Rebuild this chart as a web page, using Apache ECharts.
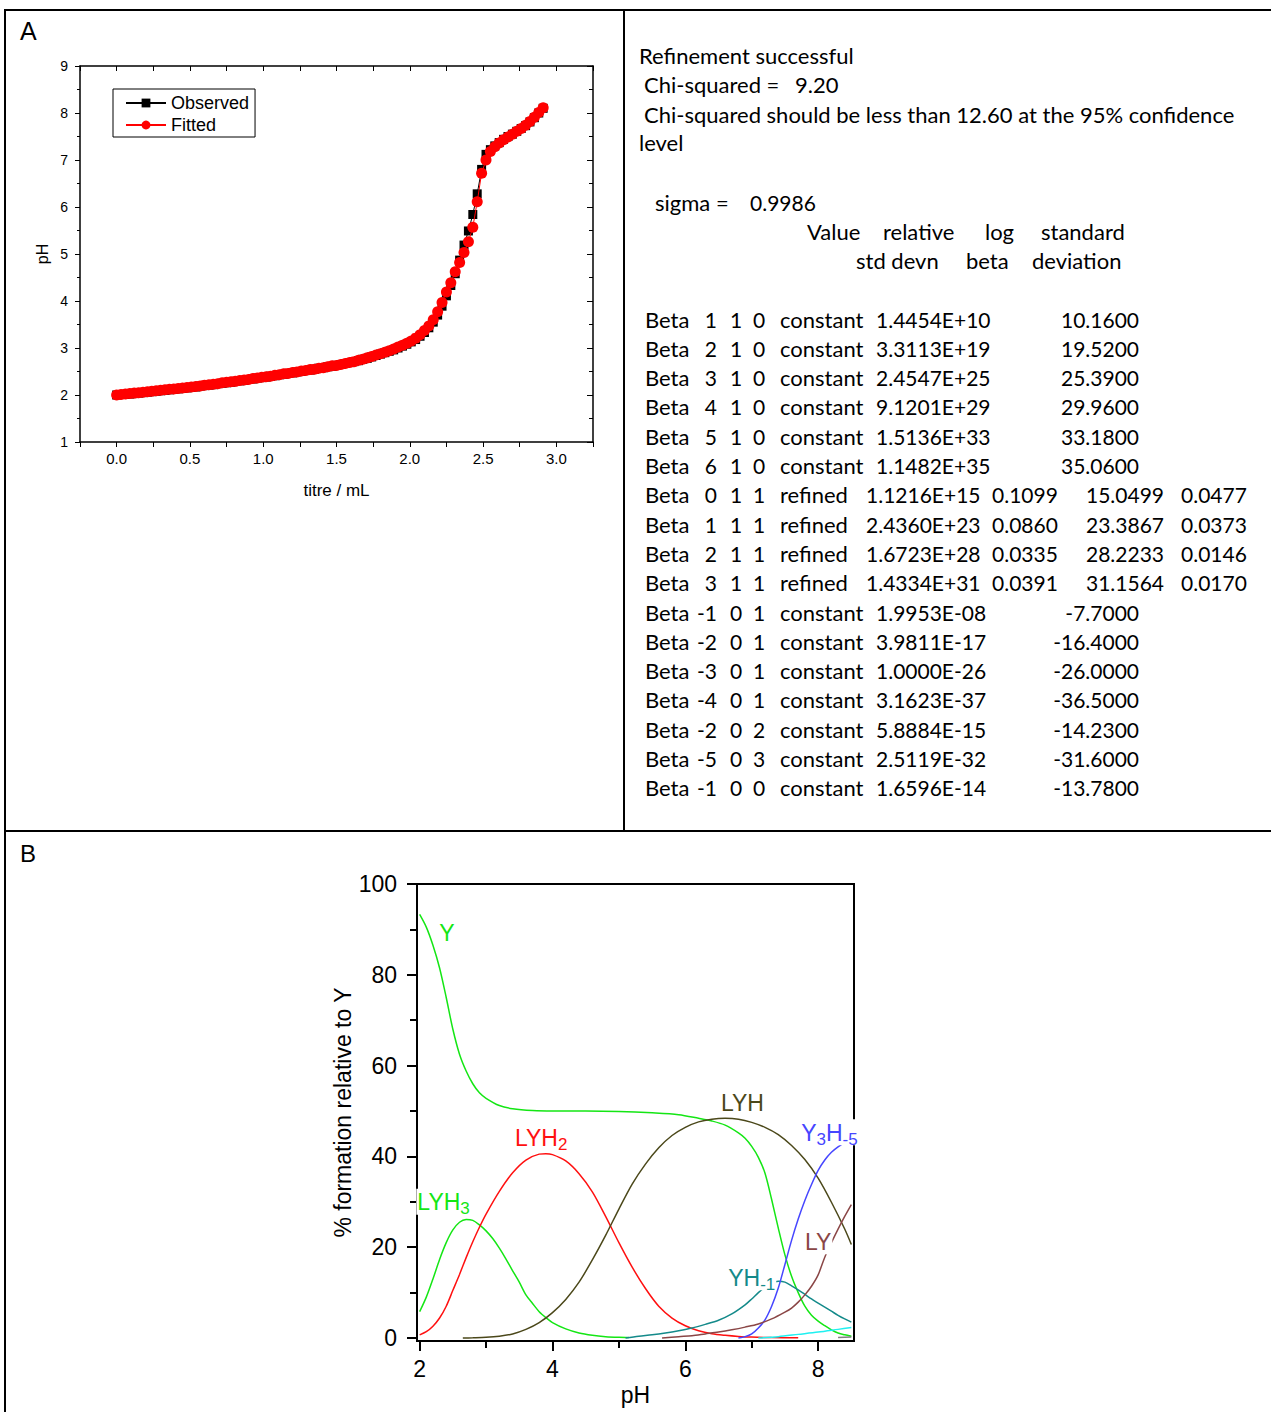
<!DOCTYPE html>
<html>
<head>
<meta charset="utf-8">
<script src="https://cdn.jsdelivr.net/npm/echarts@6/dist/echarts.min.js"></script>
<style>
  html, body { margin: 0; padding: 0; background: #fff; }
  #main { width: 1271px; height: 1412px; }
</style>
</head>
<body>
<div id="main"></div>
<script>
// ---------- Panel A: titration curve ----------
const titre = [0.00,0.03,0.06,0.09,0.12,0.15,0.18,0.21,0.24,0.27,0.30,0.33,0.36,0.39,0.42,0.45,0.48,0.51,0.54,0.57,
  0.60,0.63,0.66,0.69,0.72,0.75,0.78,0.81,0.84,0.87,0.90,0.93,0.96,0.99,1.02,1.05,1.08,1.11,1.14,1.17,
  1.20,1.23,1.26,1.29,1.32,1.35,1.38,1.41,1.44,1.47,1.50,1.53,1.56,1.59,1.62,1.65,1.68,1.71,1.74,1.77,
  1.80,1.83,1.86,1.89,1.92,1.95,1.98,2.01,2.04,2.07,2.10,2.13,2.16,2.19,2.22,2.25,2.28,2.31,2.34,2.37,
  2.40,2.43,2.46,2.49,2.52,2.55,2.58,2.61,2.64,2.67,2.70,2.73,2.76,2.79,2.82,2.85,2.88,2.91];

const pHObserved = [2.00,2.01,2.01,2.02,2.03,2.04,2.05,2.06,2.07,2.08,
  2.09,2.10,2.11,2.12,2.13,2.14,2.15,2.16,2.17,2.19,
  2.20,2.21,2.22,2.24,2.25,2.26,2.27,2.29,2.30,2.31,
  2.33,2.34,2.36,2.37,2.38,2.40,2.41,2.43,2.44,2.46,
  2.47,2.49,2.50,2.52,2.53,2.55,2.57,2.58,2.60,2.61,
  2.63,2.65,2.67,2.69,2.71,2.73,2.76,2.78,2.81,2.84,
  2.87,2.90,2.93,2.96,3.00,3.04,3.08,3.13,3.18,3.25,
  3.33,3.43,3.55,3.70,3.89,4.11,4.33,4.58,4.87,5.19,
  5.49,5.84,6.28,6.80,7.12,7.22,7.30,7.37,7.44,7.50,
  7.55,7.61,7.67,7.73,7.81,7.90,8.00,8.10];

const pHFitted = [2.00,2.01,2.02,2.03,2.04,2.05,2.06,2.07,2.08,2.09,
  2.10,2.11,2.12,2.13,2.14,2.15,2.16,2.17,2.18,2.19,
  2.21,2.22,2.23,2.24,2.26,2.27,2.28,2.29,2.31,2.32,
  2.33,2.35,2.36,2.38,2.39,2.40,2.42,2.43,2.45,2.46,
  2.48,2.49,2.51,2.52,2.54,2.55,2.57,2.58,2.60,2.62,
  2.63,2.65,2.67,2.69,2.71,2.74,2.76,2.79,2.82,2.85,
  2.88,2.91,2.94,2.98,3.02,3.06,3.10,3.15,3.21,3.28,
  3.37,3.47,3.60,3.77,3.97,4.19,4.39,4.62,4.82,5.03,
  5.26,5.57,6.11,6.72,7.00,7.18,7.28,7.36,7.43,7.49,
  7.55,7.61,7.67,7.74,7.82,7.91,8.01,8.11];

// ---------- Refinement report ----------
const reportHeader = [
  'Refinement successful',
  'Chi-squared =',
  '9.20',
  'Chi-squared should be less than 12.60 at the 95% confidence',
  'level',
  'sigma =',
  '0.9986'
];
const columnHeads1 = ['Value', 'relative', 'log', 'standard'];
const columnHeads2 = ['std devn', 'beta', 'deviation'];
// [p, q, r, status, value, relative std devn, log beta, standard deviation]
const betaRows = [
  ['1','1','0','constant','1.4454E+10','','10.1600',''],
  ['2','1','0','constant','3.3113E+19','','19.5200',''],
  ['3','1','0','constant','2.4547E+25','','25.3900',''],
  ['4','1','0','constant','9.1201E+29','','29.9600',''],
  ['5','1','0','constant','1.5136E+33','','33.1800',''],
  ['6','1','0','constant','1.1482E+35','','35.0600',''],
  ['0','1','1','refined','1.1216E+15','0.1099','15.0499','0.0477'],
  ['1','1','1','refined','2.4360E+23','0.0860','23.3867','0.0373'],
  ['2','1','1','refined','1.6723E+28','0.0335','28.2233','0.0146'],
  ['3','1','1','refined','1.4334E+31','0.0391','31.1564','0.0170'],
  ['-1','0','1','constant','1.9953E-08','','-7.7000',''],
  ['-2','0','1','constant','3.9811E-17','','-16.4000',''],
  ['-3','0','1','constant','1.0000E-26','','-26.0000',''],
  ['-4','0','1','constant','3.1623E-37','','-36.5000',''],
  ['-2','0','2','constant','5.8884E-15','','-14.2300',''],
  ['-5','0','3','constant','2.5119E-32','','-31.6000',''],
  ['-1','0','0','constant','1.6596E-14','','-13.7800','']
];

// ---------- Panel B: species distribution, [pH, % formation relative to Y] ----------
const speciesY = [[2.0,93.3],[2.1,90.5],[2.2,86.5],[2.3,81.5],[2.4,75.0],[2.5,68.0],[2.6,62.5],[2.7,58.8],[2.8,56.0],[2.9,54.0],
  [3.0,52.8],[3.2,51.2],[3.4,50.5],[3.7,50.1],[4.0,50.0],[4.5,50.0],[5.0,49.9],[5.5,49.6],[5.9,49.2],[6.2,48.4],
  [6.4,47.8],[6.6,46.9],[6.8,45.2],[6.9,44.0],[7.0,42.2],[7.1,39.8],[7.2,36.3],[7.3,30.5],[7.4,24.2],[7.5,18.3],
  [7.6,13.6],[7.7,10.0],[7.8,7.0],[7.9,5.0],[8.0,3.7],[8.1,2.7],[8.2,1.8],[8.3,1.1],[8.4,0.7],[8.5,0.4]];
const speciesLYH3 = [[2.0,5.8],[2.1,9.0],[2.2,13.0],[2.3,17.3],[2.4,21.0],[2.5,23.8],[2.6,25.5],[2.7,26.1],[2.8,25.9],[2.9,24.9],
  [3.0,23.6],[3.1,21.9],[3.2,19.8],[3.3,17.4],[3.4,14.8],[3.5,12.3],[3.6,9.5],[3.7,7.6],[3.8,5.8],[3.9,4.5],
  [4.0,3.4],[4.2,2.0],[4.4,1.1],[4.6,0.6],[4.8,0.3],[5.0,0.15],[5.15,0.1]];
const speciesLYH2 = [[2.0,0.7],[2.1,1.4],[2.2,2.6],[2.3,4.4],[2.4,7.0],[2.5,10.5],[2.6,14.0],[2.7,17.7],[2.8,21.2],[2.9,24.4],
  [3.0,27.3],[3.2,32.3],[3.4,36.4],[3.6,39.2],[3.8,40.5],[3.9,40.6],[4.0,40.4],[4.2,39.0],[4.4,36.2],[4.6,32.2],
  [4.8,26.8],[5.0,21.0],[5.2,15.6],[5.4,10.9],[5.6,7.0],[5.8,4.4],[6.0,2.7],[6.2,1.6],[6.4,0.95],[6.6,0.6],
  [6.8,0.35],[7.0,0.2],[7.3,0.1],[7.7,0.05]];
const speciesLYH = [[2.65,0.0],[2.8,0.05],[3.0,0.15],[3.2,0.4],[3.4,0.9],[3.6,1.9],[3.8,3.4],[4.0,5.6],[4.2,8.5],[4.4,12.3],
  [4.6,17.2],[4.8,22.6],[5.0,28.4],[5.2,33.9],[5.4,38.3],[5.6,41.9],[5.8,44.6],[6.0,46.4],[6.2,47.6],[6.4,48.2],
  [6.6,48.4],[6.8,48.2],[7.0,47.5],[7.2,46.4],[7.4,44.8],[7.6,42.4],[7.8,39.3],[8.0,35.2],[8.2,29.9],[8.4,24.0],[8.5,20.6]];
const speciesYHm1 = [[5.1,0.0],[5.3,0.4],[5.5,0.7],[5.7,1.1],[5.9,1.6],[6.1,2.2],[6.3,3.0],[6.5,3.9],[6.7,5.3],[6.9,7.3],
  [7.0,8.6],[7.1,10.0],[7.2,11.2],[7.3,12.1],[7.4,12.5],[7.5,12.3],[7.6,11.5],[7.7,10.6],[7.8,9.6],[7.9,8.6],
  [8.0,7.7],[8.1,6.8],[8.2,5.9],[8.3,5.0],[8.4,4.2],[8.5,3.5]];
const speciesY3Hm5 = [[6.8,0.0],[6.9,0.3],[7.0,0.9],[7.1,2.2],[7.2,4.0],[7.3,7.0],[7.4,11.0],[7.5,16.2],[7.6,21.5],[7.7,26.2],
  [7.8,30.3],[7.9,33.8],[8.0,36.9],[8.1,39.2],[8.2,40.9],[8.3,42.1],[8.4,43.0],[8.5,43.6]];
const speciesLY = [[5.65,0.0],[5.9,0.3],[6.1,0.5],[6.3,0.9],[6.5,1.3],[6.7,1.8],[6.9,2.4],[7.1,3.1],[7.3,4.2],[7.5,5.7],
  [7.6,6.6],[7.7,7.9],[7.8,9.5],[7.9,11.4],[8.0,13.9],[8.1,17.8],[8.2,21.0],[8.3,24.0],[8.4,26.8],[8.5,29.4]];
const speciesYH2 = [[7.1,0.0],[7.4,0.3],[7.7,0.8],[8.0,1.3],[8.3,1.9],[8.5,2.3]];
const speciesTrace = [[8.3,0.1],[8.5,0.2]];

const phTicksMajor = [2, 4, 6, 8];
const phTicksMinor = [3, 5, 7];
const pctTicksMajor = [0, 20, 40, 60, 80, 100];
const pctTicksMinor = [10, 30, 50, 70, 90];

// ---------- colours ----------
const C = {
  green: '#14e614', red: '#ff1010', olive: '#4b481a', blue: '#4646ff',
  brown: '#8a4646', teal: '#148a8a', cyan: '#20f0f0', grey: '#808080'
};
const SANS = 'Liberation Sans, Arial, sans-serif';
const REPORT_FONT = 'Lato, "Open Sans", sans-serif';

function speciesLabel(parts, color, coord) {
  // parts: [[text, isSub], ...] rendered as rich text with subscripts
  const fmt = parts.map(p => (p[1] ? '{s|' : '{m|') + p[0] + '}').join('');
  return {
    symbol: 'circle', symbolSize: 0, silent: true,
    data: [{ coord: coord }],
    label: {
      show: true, position: 'inside', formatter: fmt,
      backgroundColor: '#fff', padding: [1, 1, 0, 1],
      rich: {
        m: { fontSize: 23, fontFamily: SANS, color: color, lineHeight: 25 },
        s: { fontSize: 17, fontFamily: SANS, color: color, lineHeight: 17, padding: [13, 0, 0, 0] }
      }
    }
  };
}

function speciesSeries(name, data, color, labelDef) {
  const s = {
    name: name, type: 'line', xAxisIndex: 2, yAxisIndex: 2,
    data: data, showSymbol: false, smooth: 0.3,
    lineStyle: { color: color, width: 1.5 }, itemStyle: { color: color },
    silent: true, z: 2
  };
  if (labelDef) s.markPoint = labelDef;
  return s;
}

// ---------- text blocks ----------
const graphics = [];
function txt(str, x, y, align, size, font) {
  graphics.push({
    type: 'text', x: x, y: y, silent: true, z: 10,
    style: { text: str, font: (size || 22) + 'px ' + (font || REPORT_FONT), fill: '#000',
             align: align || 'left', verticalAlign: 'middle' }
  });
}
function rule(x1, y1, x2, y2) {
  graphics.push({ type: 'line', silent: true, z: 10,
    shape: { x1: x1, y1: y1, x2: x2, y2: y2 }, style: { stroke: '#000', lineWidth: 2 } });
}

// panel frames
rule(5, 10, 5, 1412);
rule(4, 10, 1271, 10);
rule(624, 10, 624, 831);
rule(4, 831, 1271, 831);

// panel letters
txt('A', 20, 31, 'left', 25, SANS);
txt('B', 20, 853, 'left', 24, SANS);

// report header
txt(reportHeader[0], 639, 55);
txt(reportHeader[1], 644, 84);
txt(reportHeader[2], 795, 84);
txt(reportHeader[3], 644, 114);
txt(reportHeader[4], 639, 142);
txt(reportHeader[5], 655, 202);
txt(reportHeader[6], 750, 202, 'left', 21);
[807, 883, 985, 1041].forEach((x, i) => txt(columnHeads1[i], x, 231));
[856, 966, 1032].forEach((x, i) => txt(columnHeads2[i], x, 260));

// beta table: words at 22px, figures at 21px
const NUM = 21;
betaRows.forEach((r, i) => {
  const y = 319 + i * 29.3;
  const refined = r[3] === 'refined';
  txt('Beta', 645, y);
  txt(r[0], 717, y, 'right', NUM);
  txt(r[1], 736, y, 'center', NUM);
  txt(r[2], 759, y, 'center', NUM);
  txt(r[3], 780, y);
  txt(r[4], refined ? 866 : 876, y, 'left', NUM);
  if (r[5]) txt(r[5], 992, y, 'left', NUM);
  txt(r[6], refined ? 1164 : 1139, y, 'right', NUM);
  if (r[7]) txt(r[7], 1181, y, 'left', NUM);
});

const axisBlack = { color: '#000' };

const option = {
  animation: false,
  backgroundColor: '#fff',
  textStyle: { fontFamily: SANS },
  grid: [
    { left: 80, top: 66, width: 513, height: 376 },
    { left: 417, top: 884, width: 437, height: 457, show: true, borderColor: '#000', borderWidth: 2, backgroundColor: 'transparent' }
  ],
  legend: {
    data: ['Observed', 'Fitted'],
    orient: 'vertical', left: 113, top: 89,
    borderColor: '#000', borderWidth: 1, padding: [5, 6, 3, 12],
    itemWidth: 40, itemHeight: 11, itemGap: 4,
    textStyle: { fontSize: 18, color: '#000', fontFamily: SANS }
  },
  xAxis: [
    { // panel A bottom
      gridIndex: 0, type: 'value', position: 'bottom', min: -0.25, max: 3.25, interval: 0.25,
      axisLine: { onZero: false, lineStyle: { color: '#000', width: 1.5 } },
      axisTick: { inside: false, length: 5, lineStyle: axisBlack },
      axisLabel: { interval: 0, fontSize: 15, color: '#000', margin: 9,
        formatter: v => (v >= 0 && Math.abs(v * 2 - Math.round(v * 2)) < 1e-6) ? v.toFixed(1) : '' },
      splitLine: { show: false },
      name: 'titre / mL', nameLocation: 'middle', nameGap: 40,
      nameTextStyle: { fontSize: 17, color: '#000' }
    },
    { // panel A top mirror
      gridIndex: 0, type: 'value', position: 'top', min: -0.25, max: 3.25, interval: 0.25,
      axisLine: { onZero: false, lineStyle: { color: '#000', width: 1.5 } },
      axisTick: { inside: true, length: 5, lineStyle: axisBlack },
      axisLabel: { show: false }, splitLine: { show: false }
    },
    { // panel B bottom
      gridIndex: 1, type: 'value', position: 'bottom', min: 1.96, max: 8.54,
      axisLine: { onZero: false, lineStyle: { color: '#000', width: 2 } },
      axisTick: { customValues: phTicksMajor, length: 10, lineStyle: { color: '#000', width: 2 } },
      axisLabel: { customValues: phTicksMajor, fontSize: 23, color: '#000', margin: 16 },
      splitLine: { show: false },
      name: 'pH', nameLocation: 'middle', nameGap: 42,
      nameTextStyle: { fontSize: 23, color: '#000' }
    },
    { // panel B minor ticks along the bottom edge
      gridIndex: 1, type: 'value', position: 'top', offset: -457, min: 1.96, max: 8.54,
      axisLine: { show: false, onZero: false },
      axisTick: { inside: true, customValues: phTicksMinor, length: 7, lineStyle: { color: '#000', width: 2 } },
      axisLabel: { show: false }, splitLine: { show: false }
    }
  ],
  yAxis: [
    { // panel A left
      gridIndex: 0, type: 'value', position: 'left', min: 1, max: 9, interval: 1,
      axisLine: { show: true, onZero: false, lineStyle: { color: '#000', width: 1.5 } },
      axisTick: { show: true, inside: false, length: 5, lineStyle: axisBlack },
      minorTick: { show: true, splitNumber: 2, length: 3, lineStyle: axisBlack },
      axisLabel: { fontSize: 14, color: '#000', margin: 12 },
      splitLine: { show: false },
      name: 'pH', nameLocation: 'middle', nameGap: 30,
      nameTextStyle: { fontSize: 16, color: '#000' }
    },
    { // panel A right mirror
      gridIndex: 0, type: 'value', position: 'right', min: 1, max: 9, interval: 1,
      axisLine: { show: true, onZero: false, lineStyle: { color: '#000', width: 1.5 } },
      axisTick: { show: true, inside: true, length: 6, lineStyle: axisBlack },
      minorTick: { show: true, splitNumber: 2, length: 4, lineStyle: axisBlack },
      axisLabel: { show: false }, splitLine: { show: false }
    },
    { // panel B left
      gridIndex: 1, type: 'value', position: 'left', min: -0.66, max: 100,
      axisLine: { show: true, onZero: false, lineStyle: { color: '#000', width: 2 } },
      axisTick: { show: true, customValues: pctTicksMajor, length: 10, lineStyle: { color: '#000', width: 2 } },
      axisLabel: { customValues: pctTicksMajor, fontSize: 23, color: '#000', margin: 20 },
      splitLine: { show: false },
      name: '% formation relative to Y', nameLocation: 'middle', nameGap: 50,
      nameTextStyle: { fontSize: 23, color: '#000' }
    },
    { // panel B minor ticks along the left edge
      gridIndex: 1, type: 'value', position: 'right', offset: -437, min: -0.66, max: 100,
      axisLine: { show: false, onZero: false },
      axisTick: { show: true, inside: true, customValues: pctTicksMinor, length: 7, lineStyle: { color: '#000', width: 2 } },
      axisLabel: { show: false }, splitLine: { show: false }
    }
  ],
  series: [
    {
      name: 'Observed', type: 'line', xAxisIndex: 0, yAxisIndex: 0,
      data: titre.map((t, i) => [t, pHObserved[i]]),
      symbol: 'rect', symbolSize: 9, showAllSymbol: true,
      lineStyle: { color: '#000', width: 1 }, itemStyle: { color: '#000' }, z: 2
    },
    {
      name: 'Fitted', type: 'line', xAxisIndex: 0, yAxisIndex: 0,
      data: titre.map((t, i) => [t, pHFitted[i]]),
      symbol: 'circle', symbolSize: 11, showAllSymbol: true,
      lineStyle: { color: '#ff0000', width: 1 }, itemStyle: { color: '#ff0000' }, z: 3
    },
    speciesSeries('Y', speciesY, C.green, speciesLabel([['Y', 0]], C.green, [2.41, 89.3])),
    speciesSeries('LYH3', speciesLYH3, C.green, speciesLabel([['LYH', 0], ['3', 1]], C.green, [2.36, 30.0])),
    speciesSeries('LYH2', speciesLYH2, C.red, speciesLabel([['LYH', 0], ['2', 1]], C.red, [3.83, 44.2])),
    speciesSeries('LYH', speciesLYH, C.olive, speciesLabel([['LYH', 0]], C.olive, [6.86, 51.9])),
    speciesSeries('YH-1', speciesYHm1, C.teal, speciesLabel([['YH', 0], ['-1', 1]], C.teal, [7.0, 13.4])),
    speciesSeries('Y3H-5', speciesY3Hm5, C.blue, speciesLabel([['Y', 0], ['3', 1], ['H', 0], ['-5', 1]], C.blue, [8.17, 45.3])),
    speciesSeries('LY', speciesLY, C.brown, speciesLabel([['LY', 0]], C.brown, [8.0, 21.3])),
    speciesSeries('YH-2', speciesYH2, C.cyan, null),
    speciesSeries('trace', speciesTrace, C.grey, null)
  ],
  graphic: graphics
};

const chart = echarts.init(document.getElementById('main'), null, { renderer: 'svg', width: 1271, height: 1412 });
chart.setOption(option);
</script>
</body>
</html>
